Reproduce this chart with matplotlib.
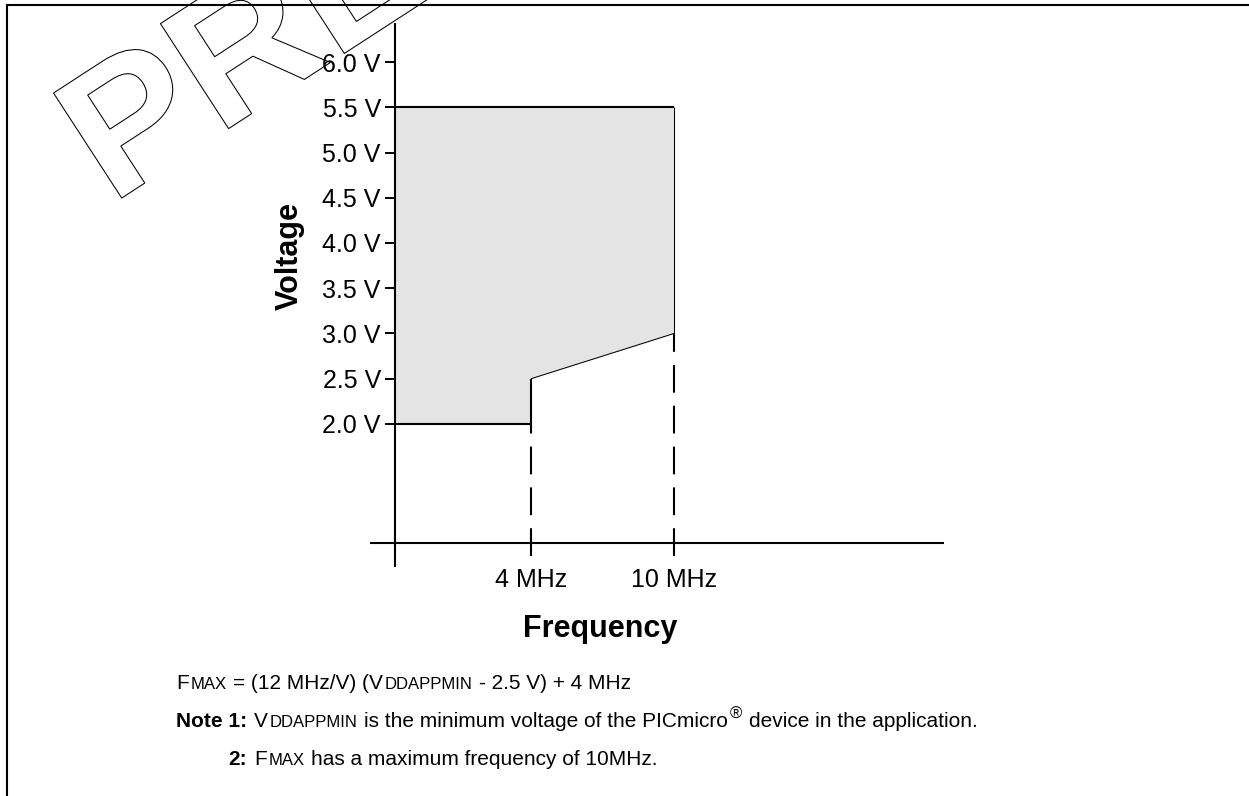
import matplotlib
matplotlib.use("Agg")
import matplotlib.pyplot as plt
from matplotlib.lines import Line2D
from matplotlib.patches import PathPatch
from matplotlib.textpath import TextPath
from matplotlib.font_manager import FontProperties
from matplotlib.transforms import Affine2D

plt.rcParams['font.family'] = ['Liberation Sans', 'DejaVu Sans']
plt.rcParams['lines.scale_dashes'] = False

# operating region: VDD vs frequency
freq_mhz = [4, 10]          # frequency break points
vdd_min = [2.5, 3.0]        # minimum VDD at each break point (FMAX line)
vdd_floor = 2.0
vdd_ceiling = 5.5
volt_ticks = [2.0, 2.5, 3.0, 3.5, 4.0, 4.5, 5.0, 5.5, 6.0]
volt_labels = [f"{v:.1f} V" for v in volt_ticks]
freq_labels = ["4 MHz", "10 MHz"]

W, H = 1249, 796
fig = plt.figure(figsize=(W / 100, H / 100), dpi=100)

ax = fig.add_axes([395 / W, 1 - 543 / H, 549 / W, 520 / H])
ax.set_xlim(-1.706, 21.33)
ax.set_ylim(0.685, 6.431)
ax.set_frame_on(False)

thick, thin = 1.5, 0.75
x0 = ax.get_xlim()[0]

# shaded operating area
ax.fill([x0, freq_mhz[0], freq_mhz[0], freq_mhz[1], freq_mhz[1], x0],
        [vdd_floor, vdd_floor, vdd_min[0], vdd_min[1], vdd_ceiling, vdd_ceiling],
        color='#e4e4e4', lw=0, zorder=1)

kw = dict(color='black', solid_capstyle='butt', zorder=3)
ax.plot([x0, freq_mhz[1]], [vdd_ceiling] * 2, lw=thick, **kw)
ax.plot([x0, freq_mhz[0]], [vdd_floor] * 2, lw=thick, **kw)
ax.plot([freq_mhz[0]] * 2, [vdd_floor, vdd_min[0]], lw=thick, **kw)
ax.plot(freq_mhz, vdd_min, lw=thin, **kw)
ax.plot([freq_mhz[1]] * 2, [vdd_min[1], vdd_ceiling], lw=thin, **kw)

# dashed drop lines, drawn upward from just below the frequency axis
ylo, yhi = ax.get_ylim()
y_bot = ylo - (yhi - ylo) * 13 / 520
for f, v in zip(freq_mhz, [vdd_floor, vdd_min[1]]):
    ax.plot([f, f], [y_bot, v], color='black', lw=thick,
            ls=(0, (20, 9.4)), dash_capstyle='butt', clip_on=False, zorder=3)

# axis lines crossing past the origin
ax.plot([-25 / 549, 1], [0, 0], transform=ax.transAxes, color='black',
        lw=thick, clip_on=False, solid_capstyle='butt')
ax.plot([0, 0], [-24 / 520, 1], transform=ax.transAxes, color='black',
        lw=thick, clip_on=False, solid_capstyle='butt')

ax.set_yticks(volt_ticks, volt_labels)
ax.set_yticks([6.0], minor=True)
ax.tick_params(axis='y', which='major', direction='out', length=7.2,
               width=1.44, pad=3, labelsize=18)
ax.tick_params(axis='y', which='minor', direction='in', length=10.8, width=1.44)
ax.set_xticks(freq_mhz, freq_labels)
ax.tick_params(axis='x', length=0, pad=18, labelsize=18)

fig.text(290 / W, 1 - 256 / H, 'Voltage', rotation=90, ha='center',
         va='center', fontsize=22, fontweight='bold')
fig.text(600 / W, 1 - 637 / H, 'Frequency', ha='center', va='baseline',
         fontsize=22, fontweight='bold')


# notes under the chart, with small caps done by font size
L, S = 15, 12


def run(x, y, pieces):
    """Lay out text pieces one after another on a baseline at y (px from top)."""
    yb = H - y
    prev = None
    out = []
    for s, size, weight, gap, rise in pieces:
        if prev is None:
            prev = fig.text(x / W, yb / H, s, fontsize=size, fontweight=weight,
                            va='baseline')
        else:
            prev = ax.annotate(s, xy=(1, yb), xycoords=(prev, 'figure pixels'),
                               xytext=(gap, rise), textcoords='offset points',
                               fontsize=size, fontweight=weight, va='baseline',
                               annotation_clip=False)
        out.append(prev)
    return out


run(176, 689, [("F", L, 'normal', 0, 0),
               ("MAX", S, 'normal', 1, 0),
               ("= (12 MHz/V) (V", L, 'normal', 5, 0),
               ("DDAPPMIN", S, 'normal', 1, 0),
               ("- 2.5 V) + 4 MHz", L, 'normal', 5, 0)])

note = run(176, 727, [("Note 1:", L, 'bold', 0, 0)])[0]
run(254, 727, [("V", L, 'normal', 0, 0),
               ("DDAPPMIN", S, 'normal', 1, 0),
               ("is the minimum voltage of the PICmicro", L, 'normal', 5, 0),
               ("®", 12, 'normal', 1, 6),
               ("device in the application.", L, 'normal', 5, 0)])

ax.annotate("2:", xy=(1, H - 765), xycoords=(note, 'figure pixels'),
            fontsize=L, fontweight='bold', ha='right', va='baseline',
            annotation_clip=False)
run(254, 765, [("F", L, 'normal', 0, 0),
               ("MAX", S, 'normal', 1, 0),
               ("has a maximum frequency of 10MHz.", L, 'normal', 5, 0)])

# page frame
fig.add_artist(Line2D([6.5 / W, 6.5 / W], [0, 1 - 4.5 / H],
                      transform=fig.transFigure, color='black', lw=1.5))
fig.add_artist(Line2D([6.5 / W, 1], [1 - 4.5 / H] * 2,
                      transform=fig.transFigure, color='black', lw=1.5))

# outlined watermark
fp = FontProperties(family='Liberation Sans', weight='bold')
tp = TextPath((0, 0), "PRELIMINARY", size=182, prop=fp)
tr = (Affine2D().scale(1.05, 1.0).rotate_deg(33).translate(111, H - 205)
      .scale(1 / W, 1 / H) + fig.transFigure)
fig.add_artist(PathPatch(tp, transform=tr, facecolor='none', edgecolor='black',
                         lw=0.75, zorder=0))

fig.savefig("out.png", dpi=100)
